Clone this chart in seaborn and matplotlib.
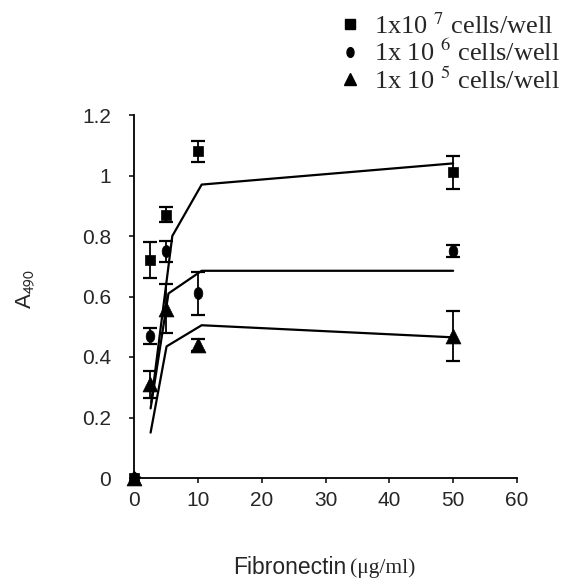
import matplotlib
matplotlib.use("Agg")
import matplotlib.pyplot as plt
import seaborn as sns
import pandas as pd
from matplotlib.lines import Line2D
from matplotlib.path import Path
from matplotlib.transforms import Affine2D

sns.set_theme(style="ticks")
plt.rcParams['font.family'] = ['Liberation Sans', 'DejaVu Sans']
plt.rcParams['mathtext.fontset'] = 'stix'

# ---- data ----
fn_conc = [0, 2.5, 5, 10, 50]
a490_1e7 = [0.0, 0.72, 0.87, 1.08, 1.01]
err_1e7 = [0.0, 0.06, 0.025, 0.035, 0.055]
a490_1e6 = [0.0, 0.47, 0.75, 0.61, 0.75]
err_1e6 = [0.0, 0.027, 0.035, 0.072, 0.02]
a490_1e5 = [0.0, 0.31, 0.56, 0.44, 0.47]
err_1e5 = [0.0, 0.045, 0.08, 0.02, 0.083]

fit_x_1e7 = [2.7, 6.0, 10.6, 50]
fit_y_1e7 = [0.25, 0.80, 0.97, 1.04]
fit_x_1e6 = [2.6, 5.4, 10.6, 50]
fit_y_1e6 = [0.23, 0.61, 0.685, 0.685]
fit_x_1e5 = [2.6, 5.1, 10.6, 50]
fit_y_1e5 = [0.15, 0.435, 0.505, 0.465]

series_labels = ["1x10 $^{7}$ cells/well", "1x 10 $^{6}$ cells/well", "1x 10 $^{5}$ cells/well"]
x_ticks = [0, 10, 20, 30, 40, 50, 60]
y_ticks = [0, 0.2, 0.4, 0.6, 0.8, 1.0, 1.2]
y_ticklabels = ["0", "0.2", "0.4", "0.6", "0.8", "1", "1.2"]

pts = pd.DataFrame({
    "x": fn_conc * 3,
    "y": a490_1e7 + a490_1e6 + a490_1e5,
    "err": err_1e7 + err_1e6 + err_1e5,
    "series": [series_labels[0]] * 5 + [series_labels[1]] * 5 + [series_labels[2]] * 5,
})
fits = pd.DataFrame({
    "x": fit_x_1e7 + fit_x_1e6 + fit_x_1e5,
    "y": fit_y_1e7 + fit_y_1e6 + fit_y_1e5,
    "series": [series_labels[0]] * 4 + [series_labels[1]] * 4 + [series_labels[2]] * 4,
})

# tall ellipse marker for the middle series
ellipse = Path(Affine2D().scale(0.72, 1.0).transform(Path.unit_circle().vertices),
               Path.unit_circle().codes)

fig = plt.figure(figsize=(5.64, 5.78), dpi=100)
ax = fig.add_axes([134 / 564, 1 - 478 / 578, 383 / 564, 363 / 578])

markers = {series_labels[0]: "s", series_labels[1]: ellipse, series_labels[2]: "^"}
sizes = {series_labels[0]: 52, series_labels[1]: 75, series_labels[2]: 115}

for s in series_labels:
    d = fits[fits.series == s]
    sns.lineplot(data=d, x="x", y="y", ax=ax, color="black", lw=1.6, sort=False,
                 estimator=None, legend=False)

for s in series_labels:
    d = pts[pts.series == s]
    ax.errorbar(d.x, d.y, yerr=d.err, fmt="none", ecolor="black", elinewidth=1.3,
                capsize=4.7, capthick=1.6, zorder=3)
    sns.scatterplot(data=d, x="x", y="y", ax=ax, marker=markers[s], s=sizes[s],
                    color="black", edgecolor="black", linewidth=0.5, legend=False,
                    zorder=4, clip_on=False)

ax.set_xlim(0, 60)
ax.set_ylim(0, 1.2)
ax.set_xticks(x_ticks)
ax.set_yticks(y_ticks)
ax.set_yticklabels(y_ticklabels)
ax.tick_params(labelsize=15, length=3.5, width=1.1, color="black")
ax.tick_params(axis="y", pad=13)
ax.tick_params(axis="x", pad=6)
sns.despine(ax=ax)
for sp in ["left", "bottom"]:
    ax.spines[sp].set_color("black")
    ax.spines[sp].set_linewidth(1.3)
ax.set_xlabel("")
ax.set_ylabel("")

fig.text(25 / 564, 1 - 289 / 578, "A$_{\\mathsf{490}}$", rotation=90, fontsize=16,
         ha="center", va="center", family=["Liberation Sans"])
fig.text(346 / 564, 1 - 568 / 578, "Fibronectin", fontsize=16.5, ha="right",
         va="center")
fig.text(350 / 564, 1 - 568 / 578, "(μg/ml)", fontsize=15.5, ha="left", va="center",
         family=["Liberation Serif"])

handles = [Line2D([], [], marker="s", color="black", linestyle="none", markersize=6.5),
           Line2D([], [], marker=ellipse, color="black", linestyle="none", markersize=7),
           Line2D([], [], marker="^", color="black", linestyle="none", markersize=8)]
leg = fig.legend(handles, series_labels, loc="upper left",
                 bbox_to_anchor=(329 / 564, 1 - 5 / 578), frameon=False,
                 prop={"family": "Liberation Serif", "size": 19},
                 handlelength=1.0, handletextpad=0.4, labelspacing=0.05,
                 borderpad=0.3, borderaxespad=0.0)

fig.savefig("out.png", dpi=100)
